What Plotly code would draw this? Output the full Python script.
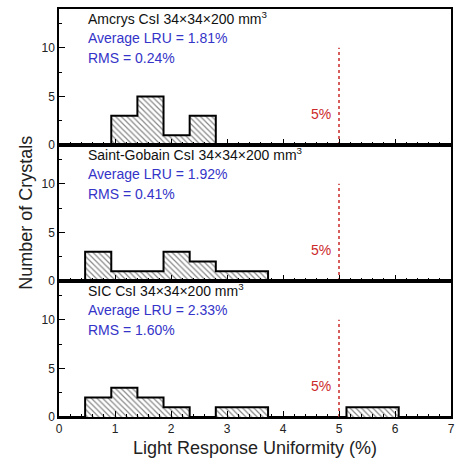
import plotly.graph_objects as go
from plotly.subplots import make_subplots

# ---- data ----
bin_width = 7 / 15
n_bins = 15
edges = [i * bin_width for i in range(n_bins + 1)]

amcrys_counts = [0, 0, 3, 5, 1, 3, 0, 0, 0, 0, 0, 0, 0, 0, 0]
saint_gobain_counts = [0, 3, 1, 1, 3, 2, 1, 1, 0, 0, 0, 0, 0, 0, 0]
sic_counts = [0, 2, 3, 2, 1, 0, 1, 1, 0, 0, 0, 1, 1, 0, 0]

panel_titles = [
    "Amcrys CsI 34×34×200 mm<sup>3</sup>",
    "Saint-Gobain CsI 34×34×200 mm<sup>3</sup>",
    "SIC CsI 34×34×200 mm<sup>3</sup>",
]
avg_lru = ["1.81%", "1.92%", "2.33%"]
rms = ["0.24%", "0.41%", "1.60%"]
series = [amcrys_counts, saint_gobain_counts, sic_counts]

limit_x = 5
limit_label = "5%"
y_ticks = [0, 5, 10]
x_ticks = [0, 1, 2, 3, 4, 5, 6, 7]

FONT = "Liberation Sans, Arial, sans-serif"
BLUE = "#3434c8"
RED = "#cc2a2a"

fig = make_subplots(rows=3, cols=1, shared_xaxes=True, vertical_spacing=0)

centers = [(edges[i] + edges[i + 1]) / 2 for i in range(n_bins)]

for r, counts in enumerate(series, start=1):
    fig.add_trace(go.Bar(
        x=centers, y=counts, width=[bin_width] * n_bins,
        marker=dict(color="white", line=dict(width=0),
                    pattern=dict(shape="\\", fgcolor="#111111", bgcolor="white",
                                 size=4, solidity=0.3)),
        showlegend=False, hoverinfo="skip"), row=r, col=1)
    # histogram step outline
    sx = edges[:]
    sy = counts + [0]
    fig.add_trace(go.Scatter(
        x=sx, y=sy, mode="lines", line=dict(shape="hv", color="black", width=2),
        showlegend=False, hoverinfo="skip"), row=r, col=1)
    # 5% dotted line
    fig.add_trace(go.Scatter(
        x=[limit_x, limit_x], y=[0, 10], mode="lines",
        line=dict(color=RED, width=1.5, dash="dot"),
        showlegend=False, hoverinfo="skip"), row=r, col=1)

    xr = "x" if r == 1 else f"x{r}"
    yr = "y" if r == 1 else f"y{r}"
    fig.add_annotation(x=0.48, y=13.1, xref=xr, yref=yr, text=panel_titles[r - 1],
                       showarrow=False, xanchor="left", yanchor="middle",
                       font=dict(family=FONT, size=14, color="#111"))
    fig.add_annotation(x=0.48, y=11.0, xref=xr, yref=yr, text=f"Average LRU = {avg_lru[r - 1]}",
                       showarrow=False, xanchor="left", yanchor="middle",
                       font=dict(family=FONT, size=14, color=BLUE))
    fig.add_annotation(x=0.48, y=9.0, xref=xr, yref=yr, text=f"RMS = {rms[r - 1]}",
                       showarrow=False, xanchor="left", yanchor="middle",
                       font=dict(family=FONT, size=14, color=BLUE))
    fig.add_annotation(x=4.68, y=3.2, xref=xr, yref=yr, text=limit_label,
                       showarrow=False, xanchor="center", yanchor="middle",
                       font=dict(family=FONT, size=14, color=RED))

fig.update_xaxes(range=[0, 7], tickvals=x_ticks, ticks="inside", ticklen=6, tickwidth=1,
                 tickcolor="black", showline=True, linecolor="black", linewidth=1.5,
                 mirror=True, showgrid=False, zeroline=False,
                 minor=dict(dtick=0.2, ticks="inside", ticklen=3, tickcolor="black", showgrid=False),
                 tickfont=dict(family=FONT, size=12, color="#222"))
fig.update_yaxes(range=[0, 14], tickvals=y_ticks, ticks="inside", ticklen=6, tickwidth=1,
                 tickcolor="black", showline=True, linecolor="black", linewidth=1.5,
                 mirror=True, showgrid=False, zeroline=False,
                 minor=dict(dtick=2.5, ticks="inside", ticklen=3, tickcolor="black", showgrid=False),
                 tickfont=dict(family=FONT, size=12, color="#222"))
fig.update_xaxes(title=dict(text="Light Response Uniformity (%)", standoff=6,
                            font=dict(family=FONT, size=18, color="#222")), row=3, col=1)

fig.add_annotation(x=-0.085, y=0.5, xref="paper", yref="paper", text="Number of Crystals",
                   xanchor="center", yanchor="middle",
                   showarrow=False, textangle=-90, font=dict(family=FONT, size=18, color="#222"))

fig.update_layout(width=462, height=462, margin=dict(l=59, r=8, t=7, b=45),
                  plot_bgcolor="white", paper_bgcolor="white", bargap=0)

fig.write_html("out.html")
